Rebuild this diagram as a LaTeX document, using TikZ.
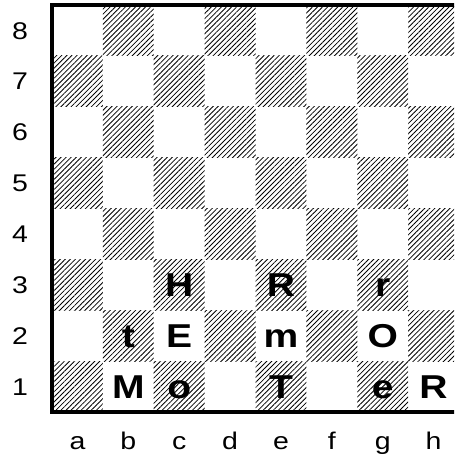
\documentclass[tikz,border=0pt]{standalone}
\usepackage{fontspec}
\setmainfont{Liberation Sans}[FakeStretch=1.18]
\usetikzlibrary{patterns.meta}
\tikzset{
  dark/.style={pattern={Lines[angle=45,distance=2pt,line width=0.45pt]}},
  piece/.style={font=\bfseries\fontsize{18.5}{18.5}\selectfont,inner sep=0pt,anchor=base},
  lbl/.style={font=\fontsize{13.5}{13.5}\selectfont,inner sep=0pt,anchor=base},
  rim/.style={line width=1.7pt},
}

\begin{document}
\begin{tikzpicture}
  \useasboundingbox (-1.022,-0.865) rectangle (7.902,8.098);
  \clip (-1.022,-0.865) rectangle (7.902,8.098);
  % hatched squares
  \foreach \f in {0,...,7}
    \foreach \r in {0,...,7}{
      \pgfmathtruncatemacro{\odd}{mod(\f+\r,2)}
      \ifnum\odd=0 \path[dark] (\f,\r) rectangle ++(1,1); \fi
    }
  \draw[rim] (8,8) -- (0,8) -- (0,0) -- (8,0);
  % ranks and files
  \foreach \r in {1,...,8}
    \node[lbl] (rank\r) at (-0.63,\r-0.67) {\r};
  \foreach \l [count=\i] in {a,b,c,d,e,f,g,h}
    \node[lbl] (file\l) at (\i-0.5,-0.747) {\l};
  % letters
  \node[piece] (c3) at (2.5,2.265) {H};
  \node[piece] (e3) at (4.5,2.265) {R};
  \node[piece] (g3) at (6.5,2.265) {r};
  \node[piece] (b2) at (1.5,1.265) {t};
  \node[piece] (c2) at (2.5,1.265) {E};
  \node[piece] (e2) at (4.5,1.265) {m};
  \node[piece] (g2) at (6.5,1.265) {O};
  \node[piece] (b1) at (1.5,0.265) {M};
  \node[piece] (c1) at (2.5,0.265) {o};
  \node[piece] (e1) at (4.5,0.265) {T};
  \node[piece] (g1) at (6.5,0.265) {e};
  \node[piece] (h1) at (7.5,0.265) {R};
\end{tikzpicture}
\end{document}
